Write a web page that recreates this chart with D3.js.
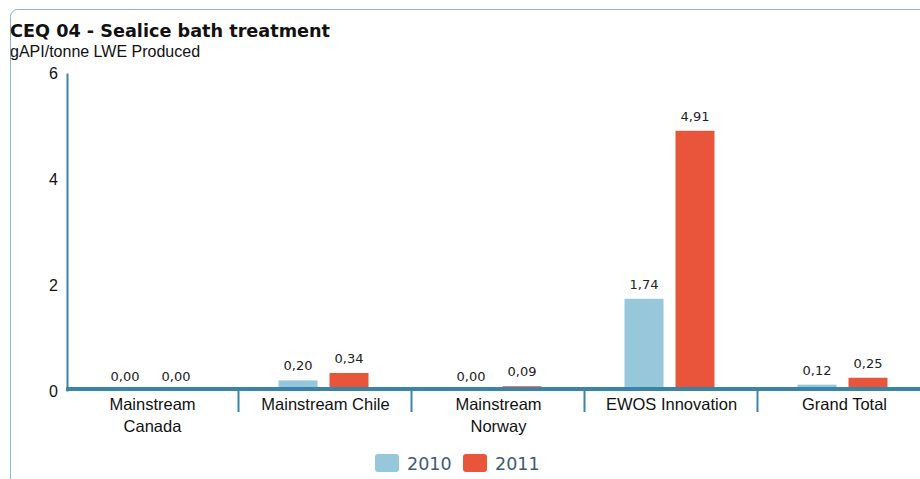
<!DOCTYPE html>
<html>
<head>
<meta charset="utf-8">
<script src="https://cdn.jsdelivr.net/npm/d3@7"></script>
<style>
  body { margin: 0; background: #fff; }
  svg { display: block; }
</style>
</head>
<body>
<div id="chart"></div>
<script>
// chart data
let categories = ["Mainstream Canada", "Mainstream Chile", "Mainstream Norway", "EWOS Innovation", "Grand Total"];
let years = ["2010", "2011"];
let values2010 = [0.00, 0.20, 0.00, 1.74, 0.12];
let values2011 = [0.00, 0.34, 0.09, 4.91, 0.25];
let yTicks = [0, 2, 4, 6];

let width = 920,
    height = 479;

let colors = { "2010": "#96c7da", "2011": "#e8553a" };
let sans = "'Liberation Sans', Arial, Helvetica, sans-serif";

let svg = d3.select("#chart")
      .append("svg")
      .attr("width", width)
      .attr("height", height);

// card border
svg.append("rect")
    .attr("x", 10.5).attr("y", 9.5)
    .attr("width", 1000).attr("height", 1000)
    .attr("rx", 7)
    .style("fill", "none")
    .style("stroke", "#8db2d3")
    .style("stroke-width", 1);

svg.append("text")
    .attr("x", 10).attr("y", 37)
    .attr("textLength", 320)
    .attr("lengthAdjust", "spacingAndGlyphs")
    .style("font-family", "'DejaVu Sans Condensed', 'DejaVu Sans', sans-serif")
    .style("font-weight", "bold")
    .style("font-size", "17px")
    .style("fill", "#111")
    .text("CEQ 04 - Sealice bath treatment");

svg.append("text")
    .attr("x", 10).attr("y", 57)
    .style("font-family", sans)
    .style("font-size", "16px")
    .style("fill", "#111")
    .text("gAPI/tonne LWE Produced");

let x0 = d3.scaleBand()
      .domain(categories)
      .range([66, 66 + 173 * 5]);

let x1 = d3.scaleBand()
      .domain(years)
      .range([0, 90])
      .paddingInner(0.235);

let y = d3.scaleLinear()
      .domain([0, 6])
      .range([391, 73]);

// y axis
let yAxis = d3.axisLeft(y).tickValues(yTicks).tickFormat(d3.format("d")).tickSize(0).tickPadding(9);
let gy = svg.append("g")
      .attr("transform", "translate(67,0)")
      .call(yAxis);
gy.select(".domain").style("stroke", "#3a84aa").style("stroke-width", 2);
gy.selectAll("text")
    .style("font-family", sans)
    .style("font-size", "16px")
    .style("fill", "#111");

// bars
let rows = categories.map(function(c, i) {
  return { cat: c, vals: [ { year: "2010", v: values2010[i] }, { year: "2011", v: values2011[i] } ] };
});

let groups = svg.selectAll("g.group")
      .data(rows)
      .enter().append("g")
      .attr("class", "group")
      .attr("transform", function(d) { return "translate(" + (x0(d.cat) + 173 / 2 - 47) + ",0)"; });

groups.selectAll("rect")
    .data(function(d) { return d.vals; })
    .enter().append("rect")
    .attr("x", function(d) { return x1(d.year); })
    .attr("width", x1.bandwidth())
    .attr("y", function(d) { return y(d.v); })
    .attr("height", function(d) { return y(0) - y(d.v); })
    .style("fill", function(d) { return colors[d.year]; });

groups.selectAll("text.val")
    .data(function(d) { return d.vals; })
    .enter().append("text")
    .attr("class", "val")
    .attr("x", function(d) { return x1(d.year) + x1.bandwidth() / 2; })
    .attr("y", function(d) { return y(d.v) - 10; })
    .attr("text-anchor", "middle")
    .style("font-family", "'DejaVu Sans', Verdana, sans-serif")
    .style("font-size", "13px")
    .style("fill", "#222")
    .text(function(d) { return d.v.toFixed(2).replace(".", ","); });

// x axis
let xAxis = d3.axisBottom(x0).tickSize(0).tickPadding(0);
let gx = svg.append("g")
      .attr("transform", "translate(0,389)")
      .call(xAxis);
gx.select(".domain").remove();
gx.append("line")
    .attr("x1", 66).attr("x2", width)
    .style("stroke", "#3a84aa")
    .style("stroke-width", 4);
gx.selectAll(".sep")
    .data(categories.slice(1))
    .enter().append("line")
    .attr("class", "sep")
    .attr("x1", function(d) { return x0(d) - 0.5; })
    .attr("x2", function(d) { return x0(d) - 0.5; })
    .attr("y1", 0).attr("y2", 23)
    .style("stroke", "#3a84aa")
    .style("stroke-width", 2);

gx.selectAll(".tick text").remove();
gx.selectAll(".tick").each(function(d) {
  let t = d3.select(this).append("text")
        .attr("text-anchor", "middle")
        .style("font-family", sans)
        .style("font-size", "16.5px")
        .style("fill", "#111");
  let lines = d === "Mainstream Chile" || d === "EWOS Innovation" || d === "Grand Total" ? [d] : d.split(" ");
  lines.forEach(function(l, i) {
    t.append("tspan").attr("x", 0).attr("y", 21 + i * 22).text(l);
  });
});

// legend
let legend = svg.append("g").attr("transform", "translate(375,454)");
let legendItems = legend.selectAll("g")
      .data(years)
      .enter().append("g")
      .attr("transform", function(d, i) { return "translate(" + (i * 88) + ",0)"; });
legendItems.append("rect")
    .attr("width", 24).attr("height", 18)
    .attr("rx", 3)
    .style("fill", function(d) { return colors[d]; });
legendItems.append("text")
    .attr("x", 32).attr("y", 16)
    .style("font-family", "'DejaVu Sans', Verdana, sans-serif")
    .style("font-size", "17.5px")
    .style("fill", "#3e5a78")
    .text(function(d) { return d; });
</script>
</body>
</html>
